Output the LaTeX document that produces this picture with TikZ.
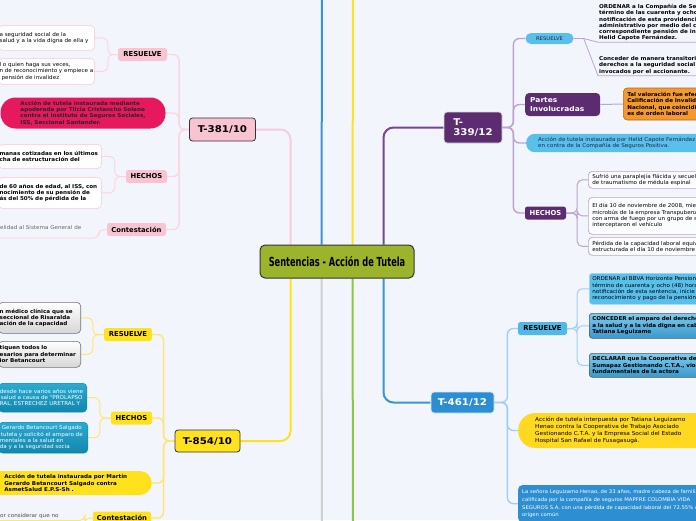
\documentclass[tikz,border=0pt]{standalone}
\usepackage{fontspec}
\setmainfont{DejaVu Sans}
\newfontfamily\condfont{DejaVu Sans}[FakeStretch=0.66]
\newfontfamily\smf{DejaVu Sans}[FakeStretch=1.06]
\newfontfamily\tpf{DejaVu Sans}[FakeStretch=1.1]
\newcommand\fsz[2]{\fontsize{#1}{#2}\selectfont}
\newcommand\Ln[1]{\mbox{#1}}
\hfuzz=400pt
\definecolor{bgc}{HTML}{F3F5FD}
\definecolor{olivec}{HTML}{9BB42C}
\definecolor{pinktr}{HTML}{F8CCDA}
\definecolor{pinkthin}{HTML}{FAD6E1}
\definecolor{pinkfill}{HTML}{F9C4D2}
\definecolor{redc}{HTML}{E6185E}
\definecolor{yellowfill}{HTML}{FFE21C}
\definecolor{yellowline}{HTML}{FFE66E}
\definecolor{purplefill}{HTML}{5B2C6F}
\definecolor{purpletr}{HTML}{76468F}
\definecolor{purplethin}{HTML}{BCA5CD}
\definecolor{bluefill}{HTML}{2B8ED4}
\definecolor{bluetr}{HTML}{3A95D8}
\definecolor{bluethin}{HTML}{A3CFEF}
\definecolor{lightblue}{HTML}{59C0EC}
\definecolor{orangec}{HTML}{F4992E}
\definecolor{grayline}{HTML}{D0D0D0}
\definecolor{greenline}{HTML}{8CC63F}
\definecolor{tealtop}{HTML}{2BAAD2}
\definecolor{tealbot}{HTML}{1287AD}
\definecolor{navyt}{HTML}{1B2A4A}
\definecolor{dtop}{HTML}{7FCBEE}
\definecolor{dbot}{HTML}{3898CC}
\definecolor{yelloval}{HTML}{FFD91F}
\definecolor{botblue}{HTML}{2D8FD1}
\pgfdeclarelayer{back}
\pgfdeclarelayer{lines}
\pgfsetlayers{back,lines,main}
\tikzset{
  topic/.style={draw=black!80, line width=0.8pt, rounded corners=3pt, inner sep=0pt, align=center, font={\tpf\fsz{9.3}{10.5}\bfseries}},
  lab/.style={rounded corners=2.5pt, inner sep=0pt, minimum height=13pt, font={\fsz{6.8}{8}\bfseries}},
  txt/.style={align=left, font={\smf\fsz{5.3}{6.3}}},
  btxt/.style={align=left, font={\smf\fsz{5.3}{6.3}\bfseries}},
  lcut/.style={anchor=north east, inner xsep=1pt, inner ysep=2pt},
  rcut/.style={anchor=north west, inner xsep=4pt, inner ysep=2pt},
  pbox/.style={fill=white, draw=pinkthin, line width=0.8pt, rounded corners=4pt},
  gbox/.style={top color=white, bottom color=black!16, draw=black!55, line width=0.6pt, rounded corners=4pt},
  tbox/.style={top color=tealtop, bottom color=tealbot, draw=tealbot, line width=0.4pt, rounded corners=4pt, text=white},
  vbox/.style={fill=white!70!bgc, draw=purplethin, line width=0.7pt, rounded corners=4pt},
  dboxa/.style={fill=lightblue, draw=lightblue!60!white, line width=0.6pt, rounded corners=3pt},
  dboxb/.style={top color=dtop, bottom color=dbot, draw=black!65, line width=0.6pt, rounded corners=3pt},
  trunk/.style={line width=2pt, rounded corners=10pt},
  br/.style={line width=1.4pt, rounded corners=6pt},
  thin/.style={line width=1pt, rounded corners=5pt},
}
\begin{document}
\begin{tikzpicture}[x=1pt,y=-1pt]
\begin{pgfonlayer}{back}
\fill[bgc] (0,0) rectangle (696,520);
\end{pgfonlayer}
\useasboundingbox (0,0) rectangle (696,520);

% ---------- root ----------
\node[topic, fill=olivec, minimum width=154pt, minimum height=33pt, rounded corners=5pt, line width=1pt,
      font={\condfont\fsz{12.5}{14}\bfseries}] (root) at (337,261.5) {Sentencias - Acción de Tutela};
\coordinate (upB) at (322,-5);
\coordinate (upY) at (353,-5);
\coordinate (dnG) at (322,525);
\coordinate (dnV) at (353,525);

% ---------- T-381/10 ----------
\node[topic, fill=pinkfill, minimum width=66pt, minimum height=23pt] (t381) at (222.5,129.5) {T-381/10};
\node[lab, fill=pinkfill, minimum width=49pt] (resA) at (142.5,54.5) {RESUELVE};
\node[lab, fill=pinkfill, minimum width=41pt] (hecA) at (146.5,176.5) {HECHOS};
\node[lab, fill=pinkfill, minimum width=59pt] (conA) at (136.5,229.5) {Contestación};
\node[btxt, fill=redc, rounded corners=15pt, minimum width=165pt, minimum height=31pt, inner sep=0pt, text=black!85] (accA) at (83,113)
  {\Ln{Acción de tutela instaurada mediante}\\\Ln{apoderada por Tilcia Cristancho Solano}\\\Ln{contra el Instituto de Seguros Sociales,}\\\Ln{ISS, Seccional Santander.}};
\node[lcut, txt, pbox, text width=94pt, minimum height=25pt] (rA1) at (95,25)
  {\Ln{a seguridad social de la}\\\Ln{salud y a la vida digna de ella y}};
\node[lcut, txt, pbox, text width=94pt, minimum height=26pt] (rA2) at (95,58)
  {\Ln{l o quien haga sus veces,}\\\Ln{n de reconocimiento y empiece a}\\\Ln{\hspace*{2pt}pensión de invalidez}};
\node[lcut, btxt, pbox, text width=101pt, minimum height=24pt] (hA1) at (102,144)
  {\Ln{manas cotizadas en los últimos}\\\Ln{cha de estructuración del}};
\node[lcut, btxt, pbox, text width=101pt, minimum height=31pt] (hA2) at (102,177)
  {\Ln{de 60 años de edad, al ISS, con}\\\Ln{nocimiento de su pensión de}\\\Ln{ás del 50\% de pérdida de la}};
\node[anchor=south west, txt, inner xsep=1pt, inner ysep=8pt, text=black!60] (cA1) at (-1,238) {elidad al Sistema General de};

% ---------- T-854/10 ----------
\node[topic, fill=yellowfill, minimum width=65pt, minimum height=22pt] (t854) at (207.5,441) {T-854/10};
\node[lab, fill=yellowfill, minimum width=48pt] (resB) at (128,334.5) {RESUELVE};
\node[lab, fill=yellowfill, minimum width=41pt] (hecB) at (131.5,418) {HECHOS};
\node[lab, fill=yellowfill, minimum width=58pt] (conB) at (122,518) {Contestación};
\node[btxt, fill=yellowfill, rounded corners=12pt, minimum width=172pt, minimum height=24pt, inner sep=0pt, anchor=east] (accB) at (152,483)
  {\Ln{Acción de tutela instaurada por Martín}\\\Ln{Gerardo Betancourt Salgado contra}\\\Ln{AsmetSalud E.P.S-Sh .}};
\node[lcut, btxt, gbox, text width=80pt, minimum height=31pt] (rB1) at (81,302)
  {\Ln{n médico clínica que se}\\\Ln{seccional de Risaralda}\\\Ln{ación de la capacidad}};
\node[lcut, btxt, gbox, text width=80pt, minimum height=26pt] (rB2) at (81,341)
  {\Ln{tiquen todos lo}\\\Ln{esarios para determinar}\\\Ln{ior Betancourt}};
\node[lcut, txt, tbox, text width=86pt, minimum height=29pt] (hB1) at (87,383)
  {\Ln{desde hace varios años viene}\\\Ln{\hspace*{1pt}salud a causa de "PROLAPSO}\\\Ln{RAL, ESTRECHEZ URETRAL Y}};
\node[lcut, txt, tbox, text width=87pt, minimum height=31pt] (hB2) at (88,422)
  {\Ln{\hspace*{2pt}Gerardo Betancourt Salgado}\\\Ln{\hspace*{1pt}tutela y solicitó el amparo de}\\\Ln{mentales a la salud en}\\\Ln{da y a la seguridad socia}};
\node[anchor=north west, txt, inner xsep=1pt, inner ysep=2pt, text=black!70] (cB1) at (-1,511) {or considerar que no};

% ---------- T-339/12 ----------
\node[topic, fill=purplefill, draw=black!15, text=white, align=left, minimum width=58pt, minimum height=31pt] (t339) at (473,127.5) {T-\\339/12};
\node[fill=lightblue, rounded corners=5.5pt, minimum width=48pt, minimum height=11pt, inner sep=0pt, font={\smf\fsz{5}{6}}, text=navyt] (resC) at (549.5,38.5) {RESUELVE};
\node[anchor=north west, btxt, inner sep=1pt, font={\smf\fsz{5.3}{6.3}\bfseries}] (rC1) at (598,3)
  {ORDENAR a la Compañía de Se\\término de las cuarenta y ocho\\notificación de esta providenci\\administrativo por medio del c\\correspondiente pensión de inv\\Helid Capote Fernández.};
\node[anchor=north west, btxt, inner sep=1pt, font={\smf\fsz{5.3}{6.6}\bfseries}] (rC2) at (598,55)
  {Conceder de manera transitoria\\derechos a la seguridad social\\invocados por el accionante.};
\node[anchor=west, fill=purplefill, rounded corners=4pt, text=white, align=left, text width=65pt, inner xsep=5pt, minimum height=23pt,
      font={\tpf\fsz{6.8}{8.2}\bfseries}] (partes) at (525,104.5) {Partes\\Involucradas};
\node[anchor=west, btxt, fill=orangec, draw=orangec!70!black, line width=0.6pt, rounded corners=4pt, text width=100pt, inner xsep=4pt, minimum height=32pt] (orng) at (623,104)
  {\Ln{Tal valoración fue efec}\\\Ln{Calificación de Invalid}\\\Ln{Nacional, que coincidi}\\\Ln{es de orden laboral}};
\node[anchor=west, txt, fill=lightblue, rounded corners=8.5pt, text width=190pt, inner xsep=12pt, minimum height=17pt, text=navyt] (accC) at (526,143)
  {\Ln{Acción de tutela instaurada por Helid Capote Fernández}\\\Ln{en contra de la Compañía de Seguros Positiva.}};
\node[lab, fill=purplefill, text=white, minimum width=41pt] (hecC) at (545.5,213) {HECHOS};
\node[rcut, txt, vbox, text width=150pt, minimum height=17pt] (hC1) at (588,171)
  {\Ln{Sufrió una paraplejía flácida y secuel}\\\Ln{de traumatismo de médula espinal}};
\node[rcut, txt, vbox, text width=150pt, minimum height=37pt] (hC2) at (588,197)
  {\Ln{El día 10 de noviembre de 2008, mie}\\\Ln{microbús de la empresa Transpubenz}\\\Ln{con arma de fuego por un grupo de s}\\\Ln{interceptaron el vehículo}};
\node[rcut, txt, vbox, text width=150pt, minimum height=18pt] (hC3) at (588,237)
  {\Ln{Pérdida de la capacidad laboral equiv}\\\Ln{estructurada el día 10 de noviembre d}};

% ---------- T-461/12 ----------
\node[topic, fill=bluefill, draw=white!80!bluefill, text=white, minimum width=63pt, minimum height=21pt] (t461) at (462.5,402.5) {T-461/12};
\node[lab, fill=lightblue!85!bluefill, minimum width=49pt] (resD) at (542.5,328.5) {RESUELVE};
\node[rcut, txt, dboxa, text width=160pt, inner xsep=3pt, minimum height=31pt] (rD1) at (589,273)
  {\Ln{ORDENAR al BBVA Horizonte Pensione}\\\Ln{término de cuarenta y ocho (48) hora}\\\Ln{notificación de esta sentencia, inicie e}\\\Ln{reconocimiento y pago de la pensión}};
\node[rcut, btxt, dboxb, text width=160pt, inner xsep=3pt, minimum height=25pt] (rD2) at (589,313)
  {\Ln{CONCEDER el amparo del derecho}\\\Ln{a la salud y a la vida digna en cab}\\\Ln{Tatiana Leguizamo}};
\node[rcut, btxt, dboxb, text width=160pt, inner xsep=3pt, minimum height=24pt] (rD3) at (589,353)
  {\Ln{DECLARAR que la Cooperativa de}\\\Ln{Sumapaz Gestionando C.T.A., viol}\\\Ln{fundamentales de la actora}};
\node[anchor=west, align=left, font={\smf\fsz{5.5}{6.8}}, fill=yelloval, rounded corners=17pt, text width=190pt, inner xsep=17pt, minimum height=35pt] (accD) at (518,430.5)
  {\Ln{Acción de tutela interpuesta por Tatiana Leguizamo}\\\Ln{Henao contra la Cooperativa de Trabajo Asociado}\\\Ln{Gestionando C.T.A. y la Empresa Social del Estado}\\\Ln{Hospital San Rafael de Fusagasugá.}};
\node[anchor=north west, align=left, font={\smf\fsz{5}{7.9}}, fill=botblue, text=white, rounded corners=4pt, text width=210pt, inner xsep=4pt, inner ysep=1.5pt, minimum height=37pt] (botD) at (518,485)
  {\Ln{La señora Leguizamo Henao, de 33 años, madre cabeza de familia, fue}\\\Ln{calificada por la compañía de seguros MAPFRE COLOMBIA VIDA}\\\Ln{SEGUROS S.A. con una pérdida de capacidad laboral del 72.55\% de}\\\Ln{origen común}};

% ---------- connectors ----------
\begin{pgfonlayer}{lines}
\draw[trunk, pinktr] ([xshift=31pt]root.north west) |- (t381.east);
\draw[trunk, bluetr] ([xshift=62pt]root.north west) -- (upB);
\draw[trunk, yellowfill] ([xshift=93pt]root.north west) -- (upY);
\draw[trunk, purpletr] ([xshift=124pt]root.north west) |- (t339.west);
\draw[trunk, yellowfill] ([xshift=31pt]root.south west) |- (t854.east);
\draw[trunk, grayline] ([xshift=62pt]root.south west) -- (dnG);
\draw[trunk, greenline] ([xshift=93pt]root.south west) -- (dnV);
\draw[trunk, bluetr] ([xshift=124pt]root.south west) |- (t461.west);
\foreach \n in {resA,accA,hecA,conA}
  \draw[br, pinkthin] (t381.west) -- ++(-10,0) |- (\n.east);
\foreach \n in {rA1,rA2}
  \draw[thin, pinkthin] (resA.west) -- ++(-10,0) |- (\n.east);
\foreach \n in {hA1,hA2}
  \draw[thin, pinkthin] (hecA.west) -- ++(-11,0) |- (\n.east);
\draw[thin, pinkthin] (conA.west) -- ++(-8,0) |- (cA1.south east) -- (cA1.south west);
\foreach \n in {resB,hecB,accB,conB}
  \draw[br, yellowline] (t854.west) -- ++(-11,0) |- (\n.east);
\foreach \n in {rB1,rB2}
  \draw[thin, yellowline] (resB.west) -- ++(-11,0) |- (\n.east);
\foreach \n in {hB1,hB2}
  \draw[thin, yellowline] (hecB.west) -- ++(-11,0) |- (\n.east);
\draw[thin, yellowline] (conB.west) -- ++(-8,0) |- (cB1.south east) -- (cB1.south west);
\foreach \n in {resC,partes,accC,hecC}
  \draw[br, purplethin] (t339.east) -- ++(11,0) |- (\n.west);
\draw[line width=0.8pt, purplethin] (resC.east) -- ++(10,0) -- (rC1.south west) -- (rC1.south east);
\draw[line width=0.8pt, purplethin] (resC.east) -- ++(10,0) -- (rC2.south west) -- (rC2.south east);
\draw[thin, purplethin] (partes.east) -- (orng.west);
\foreach \n in {hC1,hC2,hC3}
  \draw[thin, purplethin] (hecC.east) -- ++(11,0) |- (\n.west);
\foreach \n in {resD,accD,botD}
  \draw[br, bluethin] (t461.east) -- ++(13,0) |- (\n.west);
\foreach \n in {rD1,rD2,rD3}
  \draw[thin, bluethin] (resD.east) -- ++(10,0) |- (\n.west);
\end{pgfonlayer}
\end{tikzpicture}
\end{document}
